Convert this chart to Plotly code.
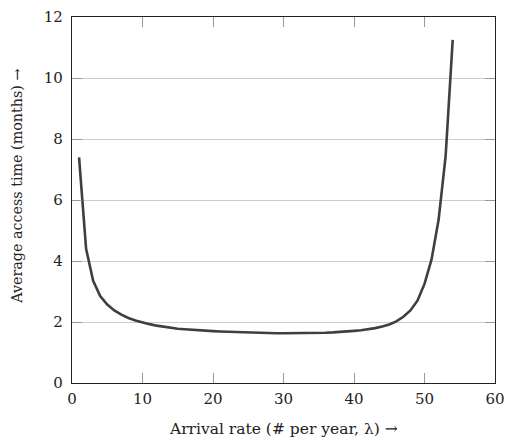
import plotly.graph_objects as go

arrival_rate = list(range(1, 55))
access_time = [7.4, 4.4, 3.35, 2.85, 2.57, 2.38, 2.24, 2.13, 2.05, 1.98,
               1.93, 1.88, 1.84, 1.81, 1.78, 1.76, 1.74, 1.72, 1.71, 1.70,
               1.69, 1.68, 1.67, 1.66, 1.65, 1.645, 1.64, 1.635, 1.63, 1.63,
               1.63, 1.63, 1.635, 1.64, 1.645, 1.65, 1.66, 1.67, 1.69, 1.71,
               1.73, 1.76, 1.80, 1.85, 1.92, 2.02, 2.17, 2.38, 2.70, 3.25,
               4.05, 5.35, 7.45, 11.25]

x_ticks = [0, 10, 20, 30, 40, 50, 60]
y_ticks = [0, 2, 4, 6, 8, 10, 12]
x_title = "Arrival rate (# per year, λ) →"
y_title = "Average access time (months) →"

FONT = "DejaVu Serif"

fig = go.Figure()
fig.add_trace(go.Scatter(x=arrival_rate, y=access_time, mode="lines",
                         line=dict(color="#3f3f3f", width=2.6),
                         showlegend=False, hoverinfo="skip"))

fig.update_layout(
    width=507, height=438,
    margin=dict(l=72, r=12, t=17, b=55, autoexpand=False),
    paper_bgcolor="white", plot_bgcolor="white",
    font=dict(family=FONT, size=14, color="#222222"),
)
fig.update_xaxes(
    range=[0, 60], tickvals=x_ticks, ticktext=[str(v) for v in x_ticks],
    showgrid=False, zeroline=False, automargin=False,
    showline=True, linecolor="#222222", linewidth=1.2, mirror="ticks",
    ticks="inside", ticklen=10, tickcolor="#999999", tickwidth=1,
    tickfont=dict(family=FONT, size=15), ticklabelstandoff=2,
)
fig.update_yaxes(
    range=[0, 12], tickvals=y_ticks, ticktext=[str(v) for v in y_ticks],
    showgrid=True, gridcolor="#cccccc", gridwidth=1, zeroline=False,
    automargin=False,
    showline=True, linecolor="#222222", linewidth=1.2, mirror="ticks",
    ticks="inside", ticklen=10, tickcolor="#999999", tickwidth=1,
    tickfont=dict(family=FONT, size=15), ticklabelstandoff=5,
)
fig.add_annotation(text=x_title, xref="paper", yref="paper", x=0.5, y=0,
                   xanchor="center", yanchor="middle", yshift=-46,
                   showarrow=False, font=dict(family=FONT, size=15.5, color="#222222"))
fig.add_annotation(text=y_title, xref="paper", yref="paper", x=0, y=0.536,
                   xanchor="center", yanchor="middle", xshift=-55, textangle=-90,
                   showarrow=False, font=dict(family=FONT, size=14.3, color="#222222"))

fig.write_html("out.html")
